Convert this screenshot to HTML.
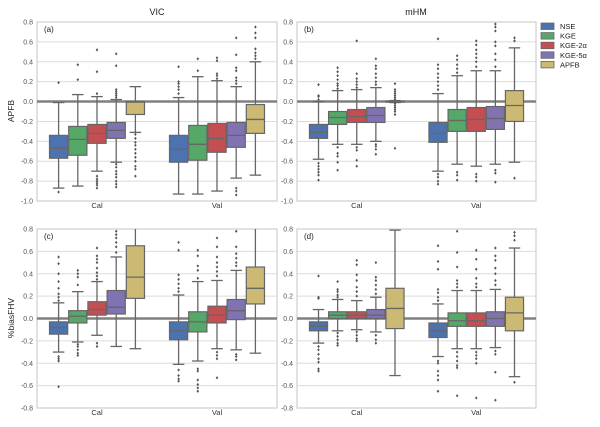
<!DOCTYPE html>
<html><head><meta charset="utf-8"><style>
html,body{margin:0;padding:0;background:#fff;}
svg{display:block;font-family:"Liberation Sans",sans-serif;}
</style></head><body>
<svg id="chart" width="600" height="427" viewBox="0 0 600 427"></svg>
<script>
const models = ["NSE","KGE","KGE-2α","KGE-5α","APFB"];
const colors = ["#4C72B0","#55A868","#C44E52","#8172B2","#CCB974"];
const groups = ["Cal","Val"];
const ticksTop = [-1.0,-0.8,-0.6,-0.4,-0.2,0.0,0.2,0.4,0.6,0.8];
const ticksBot = [-0.8,-0.6,-0.4,-0.2,0.0,0.2,0.4,0.6,0.8];
// [q1, median, q3, whiskerLow, whiskerHigh] ; Cal models then Val models
const statsA = [[-0.57,-0.47,-0.34,-0.87,-0.01],[-0.54,-0.38,-0.25,-0.85,0.07],[-0.42,-0.32,-0.23,-0.70,0.05],[-0.37,-0.29,-0.21,-0.61,0.02],[-0.13,-0.005,0.0,-0.31,0.15],
[-0.61,-0.48,-0.34,-0.93,0.04],[-0.59,-0.43,-0.24,-0.93,0.25],[-0.51,-0.37,-0.22,-0.90,0.21],[-0.46,-0.34,-0.21,-0.77,0.15],[-0.32,-0.18,-0.03,-0.74,0.40]];
const outA = [[0.19,-0.91],[0.22,0.37],[0.08,0.30,0.52,-0.75,-0.78,-0.80,-0.82,-0.84,-0.87],[0.04,0.06,0.08,0.10,0.12,0.36,0.48,-0.63,-0.66,-0.70,-0.73,-0.76,-0.80,-0.83,-0.86],[-0.33,-0.37,-0.41,-0.44,-0.48,-0.52,-0.56,-0.60,-0.65,-0.68,-0.75],
[0.08,0.12,0.15,0.18,0.20,0.35],[0.31,0.43],[0.23,0.26,0.28,0.41,0.44],[0.18,0.21,0.24,0.31,0.34,0.47,0.64,-0.87,-0.90,-0.94],[0.43,0.46,0.49,0.53,0.64,0.69,0.75]];
const statsB = [[-0.37,-0.31,-0.23,-0.58,0.0],[-0.23,-0.16,-0.10,-0.43,0.11],[-0.21,-0.15,-0.08,-0.43,0.12],[-0.21,-0.14,-0.06,-0.40,0.14],[-0.005,0.0,0.005,-0.01,0.01],
[-0.41,-0.32,-0.21,-0.70,0.08],[-0.30,-0.19,-0.08,-0.63,0.26],[-0.30,-0.18,-0.06,-0.65,0.31],[-0.28,-0.17,-0.05,-0.63,0.31],[-0.20,-0.04,0.11,-0.61,0.54]];
const outB = [[0.02,0.05,0.06,0.17,-0.62,-0.65,-0.68,-0.71,-0.74,-0.79],[0.13,0.16,0.18,0.22,0.26,0.30,0.34,-0.46,-0.52,-0.55,-0.61,-0.69],[0.14,0.17,0.20,0.23,0.28,0.61,-0.46,-0.49,-0.59,-0.65],[0.17,0.20,0.24,0.28,0.33,0.36,0.43,-0.43,-0.45,-0.48,-0.53],[0.18,0.12,0.10,0.08,0.06,0.04,0.02,-0.02,-0.04,-0.06,-0.08,-0.10,-0.13,-0.47],
[0.12,0.16,0.20,0.24,0.28,0.33,0.37,0.63,-0.73,-0.76,-0.80,-0.83],[0.29,0.33,0.37,0.42,0.46,-0.71,-0.74,-0.79],[0.35,0.40,0.44,0.48,0.52,0.57,0.61,-0.73,-0.76,-0.80],[0.35,0.42,0.48,0.56,0.60,0.71,0.75,0.78,-0.69,-0.72,-0.81],[0.61,0.64,-0.77]];
const statsC = [[-0.14,-0.08,-0.03,-0.30,0.14],[-0.04,0.02,0.07,-0.21,0.24],[0.03,0.08,0.15,-0.15,0.33],[0.04,0.10,0.25,-0.25,0.55],[0.18,0.37,0.65,-0.27,1.0],
[-0.19,-0.11,-0.03,-0.41,0.21],[-0.12,-0.03,0.06,-0.38,0.33],[-0.04,0.03,0.11,-0.27,0.34],[-0.01,0.07,0.17,-0.28,0.43],[0.13,0.27,0.46,-0.31,1.0]];
const outC = [[0.16,0.19,0.22,0.27,0.33,0.40,0.49,0.55,-0.34,-0.36,-0.38,-0.61],[0.30,0.37,0.40,0.43,-0.23,-0.25,-0.28,-0.31,-0.33],[0.35,0.38,0.41,0.45,0.50,0.53,0.56,0.63,-0.22,-0.25],[0.59,0.64,0.68,0.72,0.75,0.78],[],
[0.24,0.27,0.31,0.35,0.39,0.61,0.68,-0.46,-0.51,-0.54,-0.56],[0.36,0.43,0.47,0.56,0.61,-0.45,-0.47,-0.55,-0.59,-0.62,-0.65],[0.38,0.42,0.46,0.50,0.55,0.64,0.72,-0.30,-0.33,-0.36,-0.53],[0.47,0.50,0.54,0.58,0.64,0.78,-0.32,-0.34,-0.37],[]];
const statsD = [[-0.11,-0.07,-0.03,-0.22,0.08],[0.0,0.03,0.06,-0.11,0.17],[0.0,0.03,0.06,-0.10,0.16],[0.0,0.03,0.08,-0.12,0.19],[-0.09,0.09,0.27,-0.51,0.79],
[-0.17,-0.11,-0.04,-0.34,0.13],[-0.07,-0.02,0.05,-0.27,0.25],[-0.07,-0.02,0.05,-0.27,0.25],[-0.07,0.0,0.06,-0.26,0.26],[-0.11,0.05,0.19,-0.52,0.63]];
const outD = [[0.18,0.19,0.38,-0.25,-0.28,-0.32,-0.36,-0.39,-0.45,-0.47],[0.19,0.21,0.24,0.26,0.33,-0.13,-0.16,-0.19,-0.22,-0.24],[0.20,0.24,0.28,0.34,0.39,0.48,0.52,-0.12,-0.15,-0.18,-0.20],[0.22,0.26,0.30,0.34,0.37,0.50,-0.15,-0.19,-0.22],[],
[0.16,0.19,0.23,0.26,0.44,0.51,0.65,-0.38,-0.40,-0.47,-0.51,-0.55,-0.65],[0.28,0.31,0.34,0.46,0.59,0.78,-0.30,-0.34,-0.38,-0.42,-0.44,-0.69],[0.28,0.31,0.36,0.44,0.53,0.61,-0.30,-0.33,-0.36,-0.40,-0.71],[0.30,0.34,0.40,0.45,0.52,0.56,0.63,-0.29,-0.32,-0.48,-0.73],[0.70,0.74,0.77,-0.57]];

const NS="http://www.w3.org/2000/svg";
const svg=document.getElementById('chart');
function mk(tag,attrs,parent){const e=document.createElementNS(NS,tag);for(const k in attrs)e.setAttribute(k,attrs[k]);(parent||svg).appendChild(e);return e;}

const panels=[
 {id:'a',x0:37,x1:277,y0:22,y1:201,vmin:-1.0,vmax:0.8,ticks:ticksTop,stats:statsA,out:outA,lbl:'(a)'},
 {id:'b',x0:297,x1:536,y0:22,y1:201,vmin:-1.0,vmax:0.8,ticks:ticksTop,stats:statsB,out:outB,lbl:'(b)'},
 {id:'c',x0:37,x1:277,y0:229,y1:408,vmin:-0.8,vmax:0.8,ticks:ticksBot,stats:statsC,out:outC,lbl:'(c)'},
 {id:'d',x0:297,x1:536,y0:229,y1:408,vmin:-0.8,vmax:0.8,ticks:ticksBot,stats:statsD,out:outD,lbl:'(d)'}
];
panels.forEach(p=>{
 const g=mk('g',{});
 
 
 const y=v=>p.y1-(v-p.vmin)/(p.vmax-p.vmin)*(p.y1-p.y0);
 const cp='clip'+p.id;
 const cl=mk('clipPath',{id:cp},g);mk('rect',{x:p.x0,y:p.y0,width:p.x1-p.x0,height:p.y1-p.y0},cl);
 p.ticks.forEach(t=>{
  const gl=mk('line',{x1:p.x0,x2:p.x1,y1:y(t),y2:y(t),stroke:'#dcdcdc','stroke-width':1},g);
  
  
  const tx=mk('text',{x:p.x0-4,y:y(t)+2.5,'font-size':7,fill:'#555','text-anchor':'end'},g);
  tx.textContent=t.toFixed(1);
  
  
 });
 const fr=mk('rect',{x:p.x0,y:p.y0,width:p.x1-p.x0,height:p.y1-p.y0,fill:'none',stroke:'#cfcfcf','stroke-width':1.2},g);
 
 
 const zl=mk('line',{x1:p.x0,x2:p.x1,y1:y(0),y2:y(0),stroke:'#808080','stroke-width':2.5},g);
 
 
 const gw=(p.x1-p.x0)/2, bw=gw*0.8/5;
 const mg=mk('g',{'clip-path':'url(#'+cp+')'},g);
 for(let gi=0;gi<2;gi++){
  const cx=p.x0+gw*(gi+0.5);
  const gt=mk('text',{x:cx,y:p.y1+7,'font-size':7.5,fill:'#333','text-anchor':'middle'},g);
  gt.textContent=groups[gi];
  
  
  for(let m=0;m<5;m++){
   const s=p.stats[gi*5+m], o=p.out[gi*5+m];
   const bx=cx+(m-2)*bw, L=bx-bw/2+0.5, W=bw-1;
   const col='#666';
   const bg=mk('g',{},mg);
   
   
   mk('line',{x1:bx,x2:bx,y1:y(s[2]),y2:y(s[4]),stroke:col,'stroke-width':1.3},bg);
   mk('line',{x1:bx,x2:bx,y1:y(s[0]),y2:y(s[3]),stroke:col,'stroke-width':1.3},bg);
   mk('line',{x1:bx-bw*0.3,x2:bx+bw*0.3,y1:y(s[4]),y2:y(s[4]),stroke:col,'stroke-width':1.3},bg);
   mk('line',{x1:bx-bw*0.3,x2:bx+bw*0.3,y1:y(s[3]),y2:y(s[3]),stroke:col,'stroke-width':1.3},bg);
   mk('rect',{x:L,y:y(s[2]),width:W,height:Math.max(1,y(s[0])-y(s[2])),fill:colors[m],stroke:col,'stroke-width':1.2},bg);
   mk('line',{x1:L,x2:L+W,y1:y(s[1]),y2:y(s[1]),stroke:col,'stroke-width':1.3},bg);
   o.forEach(v=>{const d=mk('path',{d:`M${bx},${y(v)-1.6}L${bx+1.3},${y(v)}L${bx},${y(v)+1.6}L${bx-1.3},${y(v)}Z`,fill:'#555'},bg);
    
    });
  }
 }
 const pl=mk('text',{x:p.x0+7,y:p.y0+10,'font-size':8,fill:'#222'},g);
 pl.textContent=p.lbl;
 
 
});
function txt(s,a,name){const t=mk('text',a);t.textContent=s;return t;}
txt('VIC',{x:157,y:15,'font-size':9,fill:'#222','text-anchor':'middle'},'title-vic');
txt('mHM',{x:416,y:15,'font-size':9,fill:'#222','text-anchor':'middle'},'title-mhm');
txt('APFB',{x:14,y:111,'font-size':8.5,fill:'#222','text-anchor':'middle',transform:'rotate(-90 14 111)'},'y-axis-title-apfb');
txt('%biasFHV',{x:14,y:318,'font-size':8.5,fill:'#222','text-anchor':'middle',transform:'rotate(-90 14 318)'},'y-axis-title-biasfhv');
const lg=mk('g',{});


models.forEach((m,i)=>{
 const e=mk('g',{},lg);
 
 
 const yy=23+i*9.6;
 mk('rect',{x:541,y:yy,width:13,height:6.5,fill:colors[i],stroke:'#666','stroke-width':0.8},e);
 const t=mk('text',{x:560,y:yy+6,'font-size':7.5,fill:'#222'},e);t.textContent=m;
});
</script>
</body></html>
